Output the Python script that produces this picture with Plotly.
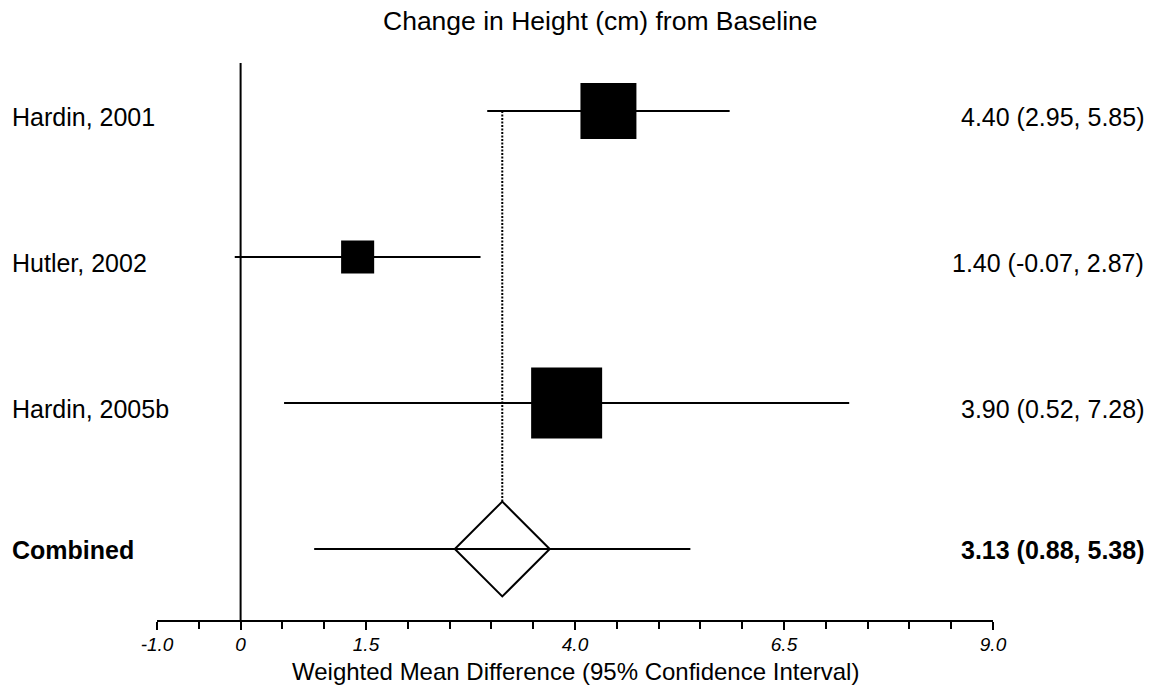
import plotly.graph_objects as go

# Study-level results (weighted mean difference, cm)
studies = ["Hardin, 2001", "Hutler, 2002", "Hardin, 2005b"]
estimates = [4.40, 1.40, 3.90]
ci_lower = [2.95, -0.07, 0.52]
ci_upper = [5.85, 2.87, 7.28]
weights = [33.8, 11.8, 54.4]  # relative study weights (%)

# Pooled result
combined_label = "Combined"
combined_est = 3.13
combined_lower = 0.88
combined_upper = 5.38

# Axis ticks
tick_values = [-1.0, 0.0, 1.5, 4.0, 6.5, 9.0]
tick_labels = ["-1.0", "0", "1.5", "4.0", "6.5", "9.0"]

FONT = "Liberation Sans, Arial, sans-serif"
n = len(studies)
rows = [n - i for i in range(n)]  # top row first
combined_row = 0

fig = go.Figure()

# Dotted reference line at the pooled estimate (drawn first, hidden behind the diamond)
fig.add_trace(go.Scatter(
    x=[combined_est, combined_est], y=[rows[0], combined_row],
    mode="lines", line=dict(color="black", width=2, dash="2px,1.5px"),
    hoverinfo="skip", showlegend=False))

# Confidence interval whiskers for each study
for est, lo, hi, r in zip(estimates, ci_lower, ci_upper, rows):
    fig.add_trace(go.Scatter(
        x=[lo, hi], y=[r, r], mode="lines",
        line=dict(color="black", width=2.2),
        hoverinfo="skip", showlegend=False))

# Weight-scaled squares at point estimates
size_scale = 71 / max(weights) ** 0.5
fig.add_trace(go.Scatter(
    x=estimates, y=rows, mode="markers",
    marker=dict(symbol="square", color="black", opacity=1,
                size=[size_scale * w ** 0.5 for w in weights],
                line=dict(width=0)),
    hoverinfo="skip", showlegend=False))

# Pooled diamond
fig.add_trace(go.Scatter(
    x=[combined_est], y=[combined_row], mode="markers",
    marker=dict(symbol="diamond", size=73, color="white", opacity=1,
                line=dict(color="black", width=2)),
    hoverinfo="skip", showlegend=False))

# Pooled confidence interval (over the diamond)
fig.add_trace(go.Scatter(
    x=[combined_lower, combined_upper], y=[combined_row, combined_row],
    mode="lines", line=dict(color="black", width=2.2),
    hoverinfo="skip", showlegend=False))

# Line of no effect
fig.add_shape(type="line", xref="x", yref="paper", x0=0, x1=0, y0=0, y1=1,
              line=dict(color="black", width=2))

# Row labels and numeric summaries
for name, est, lo, hi, r in zip(studies, estimates, ci_lower, ci_upper, rows):
    fig.add_annotation(xref="paper", yref="y", x=-0.176, y=r, text=name,
                       xanchor="left", yanchor="middle", yshift=-6,
                       showarrow=False, font=dict(family=FONT, size=25, color="black"))
    fig.add_annotation(xref="paper", yref="y", x=1.1825, y=r,
                       text=f"{est:.2f} ({lo:.2f}, {hi:.2f})",
                       xanchor="right", yanchor="middle", yshift=-6,
                       showarrow=False, font=dict(family=FONT, size=25, color="black"))

fig.add_annotation(xref="paper", yref="y", x=-0.176, y=combined_row,
                   text=f"<b>{combined_label}</b>", xanchor="left", yanchor="middle",
                   yshift=-1, showarrow=False,
                   font=dict(family=FONT, size=25, color="black"))
fig.add_annotation(xref="paper", yref="y", x=1.1825, y=combined_row,
                   text=f"<b>{combined_est:.2f} ({combined_lower:.2f}, {combined_upper:.2f})</b>",
                   xanchor="right", yanchor="middle", yshift=-1, showarrow=False,
                   font=dict(family=FONT, size=25, color="black"))

# Chart title
fig.add_annotation(xref="paper", yref="paper", x=0.53, y=1, yshift=42,
                   text="Change in Height (cm) from Baseline",
                   xanchor="center", yanchor="middle", showarrow=False,
                   font=dict(family=FONT, size=26.5, color="black"))

# Axis title
fig.add_annotation(xref="paper", yref="paper", x=0.5, y=0, yshift=-51,
                   text="Weighted Mean Difference (95% Confidence Interval)",
                   xanchor="center", yanchor="middle", showarrow=False,
                   font=dict(family=FONT, size=24, color="black"))

fig.update_layout(
    width=1154, height=690, autosize=False,
    margin=dict(l=157, r=161, t=63, b=70),
    paper_bgcolor="white", plot_bgcolor="white",
    showlegend=False,
    xaxis=dict(
        range=[-1, 9], tickmode="array", tickvals=tick_values, ticktext=tick_labels,
        ticks="outside", ticklen=8, tickwidth=2, tickcolor="black",
        minor=dict(dtick=0.5, tick0=-1, ticks="outside", ticklen=7,
                   tickwidth=2, tickcolor="black", showgrid=False),
        showline=True, linecolor="black", linewidth=2,
        showgrid=False, zeroline=False, ticklabelstandoff=-2,
        tickfont=dict(family=FONT, size=19, color="black", style="italic"),
    ),
    yaxis=dict(range=[-0.4863, 3.3288], visible=False, fixedrange=True),
)

fig.write_html("out.html")
